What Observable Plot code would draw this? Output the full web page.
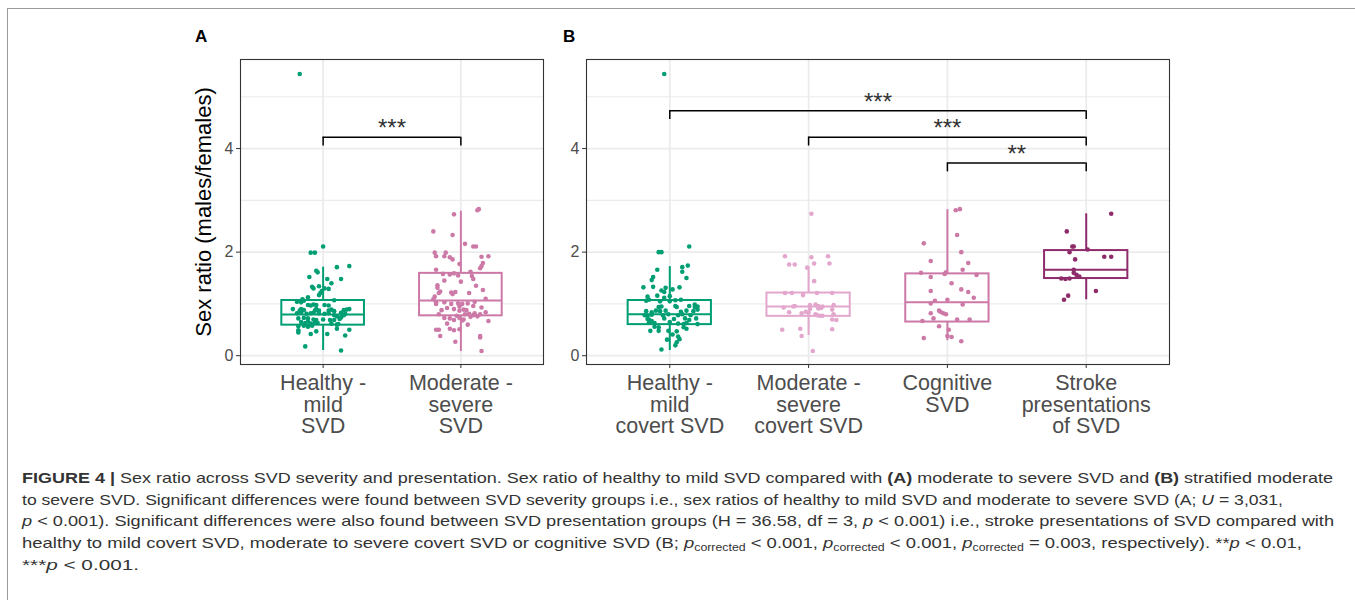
<!DOCTYPE html>
<html><head><meta charset="utf-8">
<script src="https://cdn.jsdelivr.net/npm/d3@7"></script>
<script src="https://cdn.jsdelivr.net/npm/@observablehq/plot@0.6"></script>
<style>
body{margin:0;background:#fff;width:1355px;height:600px;overflow:hidden;position:relative;font-family:"Liberation Sans",Arial,sans-serif;}
#pa{position:absolute;left:0;top:0;}
#pb{position:absolute;left:560px;top:0;}
.lab{position:absolute;font-weight:bold;font-size:17px;line-height:1;color:#000;}
.cap{position:absolute;left:22px;white-space:nowrap;font-size:15px;line-height:22px;color:#333;transform-origin:0 50%;}
.cap sub{font-size:10px;vertical-align:-3px;line-height:0;}
.bl{position:absolute;background:#9a9a9a;}
</style></head><body>
<div class="bl" style="left:7px;top:8px;width:1348px;height:1px"></div>
<div class="bl" style="left:7px;top:8px;width:1px;height:592px"></div>
<div class="lab" style="left:195px;top:28px">A</div>
<div class="lab" style="left:563px;top:28px">B</div>
<div id="pa"></div>
<div id="pb"></div>
<div class="cap" style="top:467px" data-w="1311"><b>FIGURE 4 |</b> Sex ratio across SVD severity and presentation. Sex ratio of healthy to mild SVD compared with <b>(A)</b> moderate to severe SVD and <b>(B)</b> stratified moderate</div>
<div class="cap" style="top:489px" data-w="1261">to severe SVD. Significant differences were found between SVD severity groups i.e., sex ratios of healthy to mild SVD and moderate to severe SVD (A; <i>U</i> = 3,031,</div>
<div class="cap" style="top:510px" data-w="1312"><i>p</i> &lt; 0.001). Significant differences were also found between SVD presentation groups (H = 36.58, df = 3, <i>p</i> &lt; 0.001) i.e., stroke presentations of SVD compared with</div>
<div class="cap" style="top:532px" data-w="1280">healthy to mild covert SVD, moderate to severe covert SVD or cognitive SVD (B; <i>p</i><sub>corrected</sub> &lt; 0.001, <i>p</i><sub>corrected</sub> &lt; 0.001, <i>p</i><sub>corrected</sub> = 0.003, respectively). **<i>p</i> &lt; 0.01,</div>
<div class="cap" style="top:554px" data-w="117">***<i>p</i> &lt; 0.001.</div>
<script>
// ---------- data ----------
const yTitle = "Sex ratio (males/females)";
const yTicks = [0, 2, 4];
const yMinor = [1, 3, 5];
const yDomain = [-0.17, 5.72];

const catsA = ["Healthy -\nmild\nSVD", "Moderate -\nsevere\nSVD"];
const catsB = ["Healthy -\nmild\ncovert SVD", "Moderate -\nsevere\ncovert SVD", "Cognitive\nSVD", "Stroke\npresentations\nof SVD"];

const colorsA = ["#009E73", "#CC79A7"];
const colorsB = ["#009E73", "#E3A6CC", "#CC79A7", "#8E2C6B"];

// box statistics
const aLow = [0.10, 0.08], aQ1 = [0.59, 0.77], aMed = [0.795, 1.066], aQ3 = [1.066, 1.59], aHigh = [1.71, 2.79];
const bLow = [0.10, 0.39, 0.29, 1.08], bQ1 = [0.60, 0.76, 0.65, 1.49], bMed = [0.80, 0.95, 1.03, 1.66], bQ3 = [1.066, 1.21, 1.58, 2.03], bHigh = [1.72, 1.71, 2.82, 2.74];

// significance brackets
const aBrFrom = [1], aBrTo = [2], aBrY = [4.22], aBrLabel = ["***"];
const bBrFrom = [1, 2, 3], bBrTo = [4, 4, 4], bBrY = [4.73, 4.22, 3.72], bBrLabel = ["***", "***", "**"];

// points: [jitter (category units), sex ratio]
const healthyA = [[-0.17,5.44],[0.00,2.11],[-0.09,1.99],[-0.06,1.99],[0.10,1.71],[0.19,1.73],[-0.10,1.52],[-0.05,1.64],[-0.04,1.61],[0.13,1.48],[0.03,1.48],[0.06,1.40],[-0.03,1.34],[-0.07,1.30],[-0.08,1.33],[0.01,1.30],[0.04,1.29],[-0.02,1.21],[-0.03,1.17],[-0.01,1.25],[-0.11,1.13],[-0.15,1.09],[-0.14,1.06],[0.08,1.07],[-0.19,1.04],[-0.16,1.03],[-0.07,0.99],[-0.05,0.98],[-0.11,0.98],[-0.09,0.97],[0.01,0.98],[0.04,0.97],[-0.22,0.90],[-0.17,0.87],[-0.16,0.90],[-0.14,0.88],[-0.06,0.87],[-0.05,0.90],[-0.03,0.87],[0.04,0.87],[0.06,0.89],[0.08,0.86],[0.15,0.88],[0.17,0.89],[0.19,0.90],[0.13,0.83],[0.16,0.81],[-0.19,0.82],[-0.16,0.83],[-0.12,0.81],[-0.09,0.82],[-0.07,0.83],[-0.03,0.82],[0.01,0.81],[0.04,0.82],[0.08,0.78],[0.10,0.76],[0.13,0.74],[0.15,0.78],[-0.18,0.72],[-0.14,0.73],[-0.11,0.72],[-0.07,0.70],[-0.05,0.69],[0.00,0.70],[0.05,0.69],[0.08,0.69],[0.12,0.71],[-0.16,0.65],[-0.13,0.63],[-0.11,0.66],[-0.09,0.62],[-0.06,0.64],[-0.04,0.63],[0.06,0.62],[0.10,0.60],[0.11,0.61],[-0.18,0.57],[-0.14,0.58],[-0.11,0.56],[-0.08,0.58],[-0.18,0.49],[-0.18,0.45],[-0.09,0.42],[-0.05,0.47],[0.03,0.42],[0.10,0.52],[0.16,0.39],[0.19,0.50],[-0.13,0.18],[0.13,0.10]];
const moderateA = [[0.12,2.81],[0.13,2.83],[-0.05,2.73],[-0.20,2.40],[-0.06,2.33],[0.03,2.16],[0.09,2.11],[0.11,2.11],[-0.19,1.99],[-0.18,1.92],[-0.12,1.92],[-0.11,1.99],[-0.08,1.90],[-0.06,1.86],[-0.01,1.77],[0.15,1.91],[0.20,1.92],[0.16,1.79],[0.15,1.73],[0.14,1.69],[-0.18,1.66],[-0.13,1.58],[-0.08,1.57],[-0.05,1.59],[-0.02,1.55],[0.07,1.62],[0.08,1.54],[0.09,1.48],[0.00,1.43],[-0.12,1.45],[0.11,1.35],[-0.17,1.36],[-0.17,1.31],[-0.15,1.24],[-0.16,1.21],[-0.19,1.14],[-0.07,1.22],[-0.06,1.19],[-0.04,1.23],[0.06,1.21],[0.16,1.27],[-0.20,1.09],[0.18,1.10],[-0.18,1.03],[-0.18,1.00],[-0.12,1.03],[-0.07,1.00],[-0.02,1.01],[-0.01,0.95],[0.01,1.00],[0.05,1.01],[0.10,1.04],[0.09,0.96],[0.15,0.93],[-0.14,0.88],[-0.10,0.92],[-0.05,0.90],[-0.01,0.87],[0.02,0.89],[0.04,0.88],[0.18,0.84],[0.03,0.80],[0.06,0.81],[0.10,0.82],[0.14,0.80],[-0.16,0.80],[-0.12,0.73],[-0.08,0.72],[-0.05,0.69],[-0.03,0.77],[-0.01,0.73],[0.01,0.68],[0.02,0.70],[0.07,0.75],[0.09,0.78],[0.12,0.76],[-0.10,0.62],[0.05,0.60],[0.20,0.67],[-0.18,0.50],[-0.16,0.50],[-0.15,0.38],[-0.08,0.52],[-0.05,0.49],[-0.01,0.51],[-0.04,0.27],[0.14,0.38],[0.14,0.35],[0.15,0.09]];
const healthyB = [[-0.04,5.44],[0.14,2.11],[-0.08,2.00],[-0.06,2.00],[0.09,1.71],[0.13,1.74],[0.09,1.62],[-0.09,1.66],[0.12,1.50],[-0.12,1.52],[-0.13,1.46],[-0.19,1.32],[-0.12,1.33],[-0.03,1.31],[0.02,1.28],[0.07,1.32],[-0.06,1.26],[-0.04,1.23],[-0.16,1.14],[-0.09,1.16],[-0.04,1.12],[0.00,1.15],[-0.15,1.08],[-0.17,1.06],[-0.07,1.05],[0.00,1.05],[0.04,1.07],[0.08,1.08],[0.18,0.99],[-0.08,0.94],[-0.06,0.95],[0.04,0.96],[0.05,0.94],[0.14,0.96],[0.18,0.94],[0.20,0.95],[-0.17,0.86],[-0.13,0.84],[-0.10,0.87],[-0.07,0.86],[-0.03,0.87],[0.08,0.85],[0.12,0.87],[0.17,0.86],[0.20,0.89],[-0.18,0.78],[-0.16,0.77],[-0.13,0.79],[-0.05,0.78],[-0.01,0.80],[0.06,0.78],[0.09,0.80],[0.15,0.78],[-0.16,0.71],[-0.15,0.70],[-0.13,0.67],[-0.04,0.72],[0.03,0.71],[0.11,0.72],[0.14,0.69],[0.19,0.72],[-0.15,0.64],[-0.11,0.63],[0.00,0.65],[0.06,0.62],[0.10,0.61],[0.12,0.63],[0.20,0.61],[-0.11,0.56],[-0.08,0.55],[-0.08,0.48],[-0.01,0.48],[0.05,0.47],[0.10,0.55],[0.12,0.52],[-0.14,0.48],[0.02,0.41],[0.06,0.37],[0.07,0.32],[-0.02,0.31],[0.05,0.26],[-0.06,0.12],[0.04,0.20]];
const modCovertB = [[0.02,2.74],[-0.17,1.92],[0.02,1.90],[0.14,1.92],[-0.14,1.76],[-0.10,1.76],[0.04,1.78],[0.15,1.78],[-0.01,1.70],[0.04,1.44],[-0.17,1.21],[-0.12,1.21],[-0.04,1.17],[0.06,1.21],[0.17,1.21],[-0.18,0.93],[-0.11,0.95],[-0.10,0.96],[0.01,0.98],[0.01,0.90],[0.05,0.99],[0.07,0.96],[0.10,0.95],[0.07,0.91],[0.09,0.92],[0.18,0.98],[-0.14,0.84],[-0.05,0.82],[-0.02,0.85],[0.00,0.83],[0.05,0.80],[0.06,0.78],[0.08,0.77],[0.10,0.77],[0.17,0.89],[0.18,0.80],[0.17,0.70],[0.20,0.69],[-0.19,0.50],[-0.06,0.52],[-0.05,0.38],[0.17,0.51],[0.03,0.09]];
const cognitiveB = [[0.06,2.81],[0.09,2.83],[0.07,2.33],[-0.17,2.17],[0.10,2.00],[-0.12,1.83],[0.15,1.79],[0.11,1.66],[-0.19,1.60],[-0.02,1.58],[-0.01,1.61],[-0.12,1.52],[0.21,1.56],[0.03,1.40],[0.10,1.28],[0.15,1.23],[0.19,1.12],[-0.12,1.25],[-0.09,1.06],[-0.12,1.01],[0.00,1.08],[0.11,0.99],[-0.06,0.87],[-0.05,0.85],[-0.03,0.82],[-0.01,0.80],[-0.12,0.82],[-0.10,0.72],[-0.18,0.67],[0.07,0.70],[0.16,0.70],[-0.06,0.57],[0.01,0.50],[0.00,0.38],[0.03,0.36],[-0.17,0.34],[0.10,0.28]];
const strokeB = [[0.18,2.74],[-0.14,2.40],[-0.10,2.11],[-0.09,2.11],[-0.12,2.00],[0.01,2.05],[-0.08,1.86],[0.13,1.91],[0.18,1.91],[-0.09,1.66],[-0.09,1.60],[-0.07,1.56],[-0.18,1.49],[-0.15,1.48],[-0.12,1.49],[-0.05,1.53],[0.07,1.25],[-0.13,1.16],[-0.16,1.08]];

// ---------- drawing ----------
const FONT = "'Liberation Sans', Arial, sans-serif";
const BOXW = 0.3;   // half box width in category units
const DROP = 0.17;  // bracket tip length in y units

function panel({width, height, left, right, cats, colors, low, q1, med, q3, high, pts, brFrom, brTo, brY, brLabel, title}) {
  const n = cats.length;
  const idx = d3.range(1, n + 1);
  const boxes = idx.map((i, k) => ({i, lo: low[k], q1: q1[k], med: med[k], q3: q3[k], hi: high[k], c: colors[k]}));
  const dots = pts.flatMap((list, k) => list.map(([j, v]) => ({x: k + 1 + j, v, c: colors[k]})));
  const br = brFrom.map((f, k) => ({f, t: brTo[k], y: brY[k], label: brLabel[k]}));
  return Plot.plot({
    width, height,
    marginLeft: left, marginRight: right, marginTop: 59, marginBottom: height - 364,
    x: {domain: [0.4, n + 0.6]},
    y: {domain: yDomain},
    style: {fontFamily: FONT, background: "transparent", overflow: "visible"},
    marks: [
      Plot.ruleY(yMinor, {stroke: "#ebebeb", strokeWidth: 1.1}),
      Plot.ruleY(yTicks, {stroke: "#ebebeb", strokeWidth: 1.7}),
      Plot.ruleX(idx, {stroke: "#ebebeb", strokeWidth: 1.7}),
      Plot.ruleX(boxes, {x: "i", y1: "q3", y2: "hi", stroke: "c", strokeWidth: 2}),
      Plot.ruleX(boxes, {x: "i", y1: "lo", y2: "q1", stroke: "c", strokeWidth: 2}),
      Plot.rect(boxes, {x1: d => d.i - BOXW, x2: d => d.i + BOXW, y1: "q1", y2: "q3", fill: "white", stroke: "c", strokeWidth: 2}),
      Plot.ruleY(boxes, {y: "med", x1: d => d.i - BOXW, x2: d => d.i + BOXW, stroke: "c", strokeWidth: 2}),
      Plot.dot(dots, {x: "x", y: "v", r: 2.3, fill: "c", stroke: null}),
      Plot.ruleY(br, {y: "y", x1: "f", x2: "t", stroke: "#000", strokeWidth: 1.5}),
      Plot.ruleX(br, {x: "f", y1: "y", y2: d => d.y - DROP, stroke: "#000", strokeWidth: 1.5}),
      Plot.ruleX(br, {x: "t", y1: "y", y2: d => d.y - DROP, stroke: "#000", strokeWidth: 1.5}),
      Plot.text(br, {x: d => (d.f + d.t) / 2, y: "y", text: "label", lineAnchor: "bottom", dy: -1, fontSize: 24, fill: "#333"}),
      Plot.frame({stroke: "#333", strokeWidth: 1.1}),
      Plot.axisY({ticks: yTicks, tickSize: 4, tickPadding: 3, fontSize: 16, tickFormat: d => String(d), fill: "#4d4d4d", stroke: "#333", label: null}),
      Plot.axisX({ticks: idx, tickSize: 4, tickPadding: 6, fontSize: 21.5, lineHeight: 1.01, tickFormat: i => cats[i - 1], fill: "#4d4d4d", stroke: "#333", label: null}),
      title ? Plot.text([title], {text: d => d, frameAnchor: "left", textAnchor: "middle", lineAnchor: "middle", rotate: -90, dx: -37, fontSize: 22, fill: "#000"}) : null
    ]
  });
}

document.getElementById("pa").append(panel({
  width: 560, height: 450, left: 240, right: 17, cats: catsA, colors: colorsA,
  low: aLow, q1: aQ1, med: aMed, q3: aQ3, high: aHigh, pts: [healthyA, moderateA],
  brFrom: aBrFrom, brTo: aBrTo, brY: aBrY, brLabel: aBrLabel, title: yTitle
}));
document.getElementById("pb").append(panel({
  width: 795, height: 450, left: 26, right: 186, cats: catsB, colors: colorsB,
  low: bLow, q1: bQ1, med: bMed, q3: bQ3, high: bHigh, pts: [healthyB, modCovertB, cognitiveB, strokeB],
  brFrom: bBrFrom, brTo: bBrTo, brY: bBrY, brLabel: bBrLabel, title: null
}));

document.querySelectorAll(".cap").forEach(el => {
  const w = el.getBoundingClientRect().width;
  el.style.transform = `scaleX(${(+el.dataset.w) / w})`;
});
</script>
</body></html>
